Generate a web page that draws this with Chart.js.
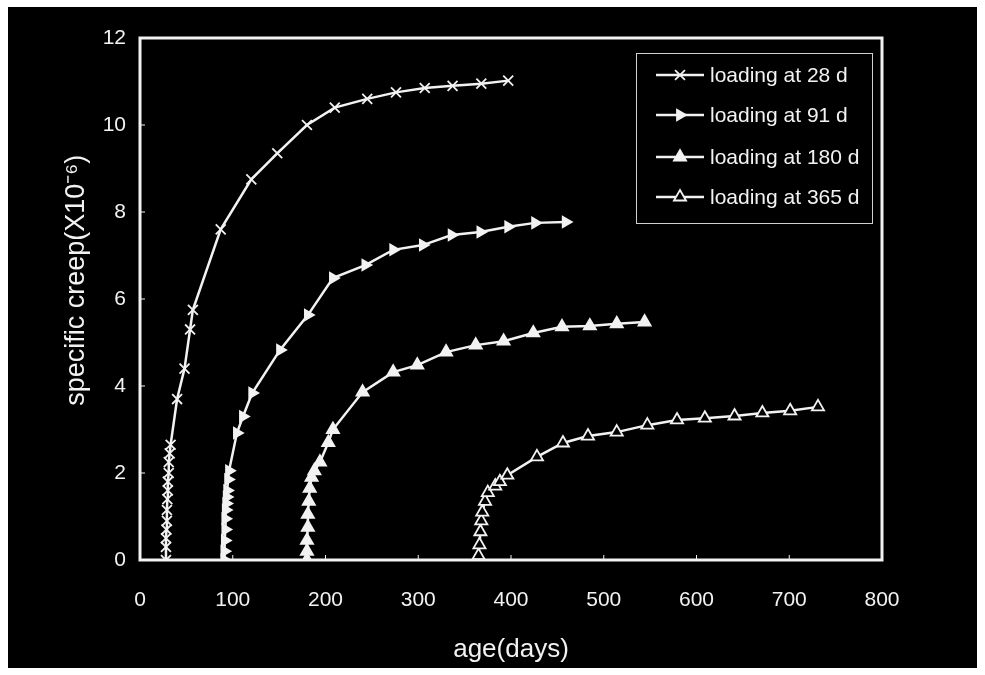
<!DOCTYPE html>
<html>
<head>
<meta charset="utf-8">
<title>specific creep</title>
<script src="https://cdn.jsdelivr.net/npm/chart.js@4.4.1/dist/chart.umd.min.js"></script>
<style>
    html, body { margin: 0; padding: 0; background: #ffffff; }
    #creepChart { display: block; }
</style>
</head>
<body>
<canvas id="creepChart" width="985" height="675"></canvas>
<script>
// values (age in days, specific creep in 1e-6)
const seriesNames = ['loading at 28 d', 'loading at 91 d', 'loading at 180 d', 'loading at 365 d'];

const age28 = [28, 28, 28, 28.5, 29, 29, 29.5, 30, 30, 31, 31, 32, 33, 40, 48, 54, 57, 87, 120, 148, 180, 210, 245, 276, 307, 337, 368, 397];
const creep28 = [0, 0.3, 0.5, 0.7, 0.9, 1.15, 1.4, 1.6, 1.8, 2.0, 2.25, 2.45, 2.65, 3.7, 4.4, 5.3, 5.75, 7.6, 8.75, 9.35, 10.0, 10.4, 10.6, 10.75, 10.85, 10.9, 10.95, 11.02];

const age91 = [91, 91, 91.5, 92, 92, 92.5, 93, 93.5, 94, 95, 96, 104.5, 111, 121, 151, 181, 208, 243, 273, 305, 336, 367, 397, 426, 459];
const creep91 = [0, 0.2, 0.45, 0.7, 0.95, 1.15, 1.3, 1.45, 1.6, 1.85, 2.05, 2.92, 3.3, 3.84, 4.83, 5.63, 6.48, 6.78, 7.13, 7.24, 7.47, 7.54, 7.66, 7.75, 7.77];

const age180 = [180, 180, 180, 181, 181, 182, 183, 185, 188, 194, 203, 208, 240, 273, 299, 330, 362, 392, 424, 455, 485, 514, 544];
const creep180 = [0, 0.2, 0.45, 0.75, 1.05, 1.35, 1.65, 1.9, 2.05, 2.25, 2.7, 3.0, 3.86, 4.32, 4.48, 4.78, 4.94, 5.03, 5.22, 5.36, 5.38, 5.43, 5.47];

const age365 = [365, 365, 366, 367, 368, 369, 372, 375, 383, 388, 396, 428, 456, 483, 514, 547, 579, 609, 641, 671, 701, 731];
const creep365 = [0, 0.1, 0.35, 0.65, 0.9, 1.1, 1.35, 1.55, 1.7, 1.8, 1.95, 2.37, 2.69, 2.85, 2.94, 3.1, 3.22, 3.26, 3.31, 3.38, 3.43, 3.52];

const xTicks = [0, 100, 200, 300, 400, 500, 600, 700, 800];
const yTicks = [0, 2, 4, 6, 8, 10, 12];

const INK = '#f2f2f2';

function toPoints(xs, ys) {
    return xs.map((x, i) => ({ x: x, y: ys[i] }));
}

function makeDataset(label, xs, ys, style) {
    return Object.assign({
        label: label,
        data: toPoints(xs, ys),
        showLine: true,
        borderColor: INK,
        borderWidth: 2.5,
        pointBorderColor: INK,
        pointBackgroundColor: INK,
        pointBorderWidth: 1.8,
        tension: 0
    }, style);
}

// black photo area with a thin white frame
const backdrop = {
    id: 'backdrop',
    beforeDraw(chart) {
        const ctx = chart.ctx;
        ctx.save();
        ctx.fillStyle = '#ffffff';
        ctx.fillRect(0, 0, chart.width, chart.height);
        ctx.fillStyle = '#000000';
        ctx.fillRect(8, 7, chart.width - 16, chart.height - 14);
        ctx.restore();
    }
};

// box round the plot and small inward ticks
const frame = {
    id: 'frame',
    afterDatasetsDraw(chart) {
        const { ctx, chartArea: a, scales } = chart;
        ctx.save();
        ctx.strokeStyle = INK;
        ctx.lineWidth = 3;
        ctx.strokeRect(a.left, a.top, a.right - a.left, a.bottom - a.top);
        ctx.lineWidth = 1;
        ctx.beginPath();
        xTicks.forEach(v => {
            const px = scales.x.getPixelForValue(v);
            ctx.moveTo(px, a.bottom);
            ctx.lineTo(px, a.bottom - 5);
        });
        yTicks.forEach(v => {
            const py = scales.y.getPixelForValue(v);
            ctx.moveTo(a.left, py);
            ctx.lineTo(a.left + 5, py);
        });
        ctx.stroke();
        ctx.restore();
    }
};

// legend box in the top right corner of the plot
const boxLegend = {
    id: 'boxLegend',
    afterDraw(chart) {
        const ctx = chart.ctx;
        const left = 636, top = 53, right = 872, bottom = 223;
        const rows = [75, 115, 157, 197];
        ctx.save();
        ctx.strokeStyle = '#cfcfcf';
        ctx.lineWidth = 1;
        ctx.strokeRect(left + 0.5, top + 0.5, right - left, bottom - top);
        ctx.font = '21px "Liberation Sans", Arial, sans-serif';
        ctx.textBaseline = 'middle';
        ctx.textAlign = 'left';
        chart.data.datasets.forEach((ds, i) => {
            const y = rows[i];
            ctx.strokeStyle = INK;
            ctx.lineWidth = 2.5;
            ctx.beginPath();
            ctx.moveTo(656, y);
            ctx.lineTo(704, y);
            ctx.stroke();
            ctx.fillStyle = ds.pointBackgroundColor;
            ctx.strokeStyle = ds.pointBorderColor;
            ctx.lineWidth = ds.pointBorderWidth;
            Chart.helpers.drawPoint(ctx, {
                pointStyle: ds.pointStyle,
                rotation: ds.pointRotation || 0,
                radius: ds.pointRadius,
                borderWidth: ds.pointBorderWidth
            }, 680, y);
            ctx.fillStyle = INK;
            ctx.fillText(ds.label, 710, y + 1);
        });
        ctx.restore();
    }
};

const tickFont = { family: '"Liberation Sans", Arial, sans-serif', size: 21 };

new Chart(document.getElementById('creepChart'), {
    type: 'scatter',
    data: {
        datasets: [
            makeDataset(seriesNames[0], age28, creep28, { pointStyle: 'crossRot', pointRadius: 7 }),
            makeDataset(seriesNames[1], age91, creep91, { pointStyle: 'triangle', pointRotation: 90, pointRadius: 6 }),
            makeDataset(seriesNames[2], age180, creep180, { pointStyle: 'triangle', pointRadius: 7 }),
            makeDataset(seriesNames[3], age365, creep365, { pointStyle: 'triangle', pointRadius: 7, pointBackgroundColor: '#000000' })
        ]
    },
    options: {
        responsive: false,
        animation: false,
        layout: { padding: { left: 0, top: 38, right: 103, bottom: 0 } },
        plugins: {
            legend: { display: false },
            tooltip: { enabled: false }
        },
        scales: {
            x: {
                type: 'linear',
                min: 0,
                max: 800,
                afterFit: scale => { scale.height = 115; },
                afterBuildTicks: scale => { scale.ticks = xTicks.map(v => ({ value: v })); },
                grid: { display: false, drawTicks: false },
                border: { display: false },
                ticks: { color: INK, font: tickFont, padding: 28 },
                title: {
                    display: true,
                    text: 'age(days)',
                    color: INK,
                    font: { family: '"Liberation Sans", Arial, sans-serif', size: 26 },
                    padding: { top: 0, bottom: 10 }
                }
            },
            y: {
                type: 'linear',
                min: 0,
                max: 12,
                afterFit: scale => { scale.width = 140; },
                afterBuildTicks: scale => { scale.ticks = yTicks.map(v => ({ value: v })); },
                grid: { display: false, drawTicks: false },
                border: { display: false },
                ticks: { color: INK, font: tickFont, padding: 14 },
                title: {
                    display: true,
                    // leading spaces lift the rotated title a little, as in the picture
                    text: '     specific creep(X10\u207B\u2076)',
                    color: INK,
                    font: { family: '"Liberation Sans", Arial, sans-serif', size: 27 },
                    padding: { top: 60, bottom: 0 }
                }
            }
        }
    },
    plugins: [backdrop, frame, boxLegend]
});
</script>
</body>
</html>
